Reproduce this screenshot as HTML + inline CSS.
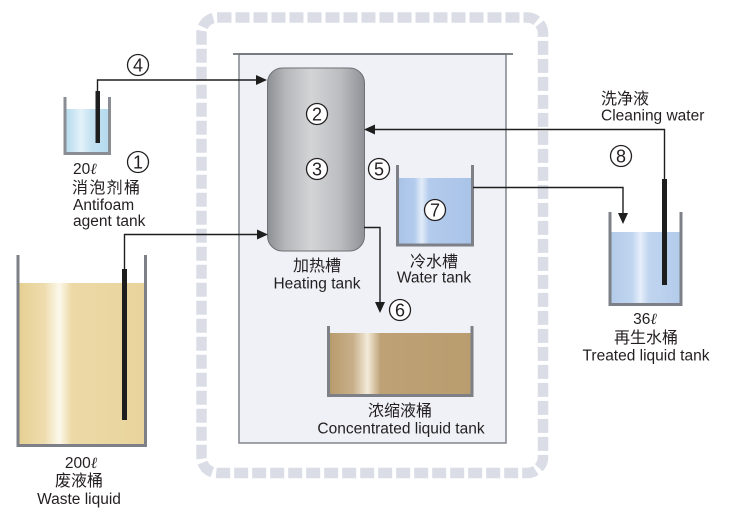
<!DOCTYPE html>
<html>
<head>
<meta charset="utf-8">
<style>
  html,body{margin:0;padding:0;background:#fff;}
  svg{display:block;}
  text{font-family:"Liberation Sans","Noto Sans CJK SC",sans-serif;fill:#231f20;}
</style>
</head>
<body>
<svg width="730" height="514" viewBox="0 0 730 514" xmlns="http://www.w3.org/2000/svg">
  <defs>
    <linearGradient id="heat" x1="0" y1="0" x2="1" y2="0">
      <stop offset="0" stop-color="#8c8f93"/>
      <stop offset="0.18" stop-color="#b4b6b9"/>
      <stop offset="0.45" stop-color="#d3d4d6"/>
      <stop offset="0.75" stop-color="#bbbdc0"/>
      <stop offset="1" stop-color="#8e9196"/>
    </linearGradient>
    <linearGradient id="blue" x1="0" y1="0" x2="1" y2="0">
      <stop offset="0" stop-color="#a9c3e8"/>
      <stop offset="0.22" stop-color="#b3cbec"/>
      <stop offset="0.32" stop-color="#e2ecf9"/>
      <stop offset="0.42" stop-color="#b3cbec"/>
      <stop offset="1" stop-color="#a9c3e8"/>
    </linearGradient>
    <linearGradient id="blue2" x1="0" y1="0" x2="1" y2="0">
      <stop offset="0" stop-color="#b3cbea"/>
      <stop offset="0.3" stop-color="#c0d5ef"/>
      <stop offset="0.42" stop-color="#e6eefa"/>
      <stop offset="0.54" stop-color="#c0d5ef"/>
      <stop offset="1" stop-color="#b3cbea"/>
    </linearGradient>
    <linearGradient id="cyan" x1="0" y1="0" x2="1" y2="0">
      <stop offset="0" stop-color="#b5dbee"/>
      <stop offset="0.35" stop-color="#e3f2f9"/>
      <stop offset="0.6" stop-color="#c2e1f1"/>
      <stop offset="1" stop-color="#b5dbee"/>
    </linearGradient>
    <linearGradient id="waste" x1="0" y1="0" x2="1" y2="0">
      <stop offset="0" stop-color="#e6d092"/>
      <stop offset="0.2" stop-color="#eedcae"/>
      <stop offset="0.32" stop-color="#fcf8ea"/>
      <stop offset="0.42" stop-color="#ecd9a6"/>
      <stop offset="1" stop-color="#e9d49c"/>
    </linearGradient>
    <linearGradient id="conc" x1="0" y1="0" x2="1" y2="0">
      <stop offset="0" stop-color="#b79a6b"/>
      <stop offset="0.17" stop-color="#c8b08a"/>
      <stop offset="0.27" stop-color="#f3ead9"/>
      <stop offset="0.36" stop-color="#bea276"/>
      <stop offset="1" stop-color="#b99d6f"/>
    </linearGradient>
  </defs>

  <!-- dashed outer border -->
  <rect x="201.5" y="17.5" width="341.5" height="455.5" rx="16" ry="16" fill="none" stroke="#dadde6" stroke-width="10.5" stroke-dasharray="14 4"/>

  <!-- inner box -->
  <rect x="239" y="54" width="267" height="389" fill="#eff1f7" stroke="#8a8d93" stroke-width="1.6"/>
  <line x1="233" y1="54" x2="513" y2="54" stroke="#6f7277" stroke-width="1.8"/>

  <!-- heating tank -->
  <rect x="267.5" y="68" width="97" height="183" rx="15" ry="15" fill="url(#heat)" stroke="#6d7075" stroke-width="1"/>

  <!-- water tank -->
  <rect x="398" y="178" width="74" height="66" fill="url(#blue)"/>
  <polyline points="397.5,165 397.5,245 472.5,245 472.5,165" fill="none" stroke="#7d8087" stroke-width="3"/>

  <!-- concentrated liquid tank -->
  <rect x="329" y="333" width="143" height="62" fill="url(#conc)"/>
  <polyline points="328.5,326 328.5,395.5 472,395.5 472,326" fill="none" stroke="#7d8087" stroke-width="3"/>

  <!-- antifoam tank -->
  <rect x="66" y="109" width="43" height="43" fill="url(#cyan)"/>
  <polyline points="65,97 65,153.5 109.5,153.5 109.5,97" fill="none" stroke="#8a8d93" stroke-width="3"/>

  <!-- waste tank -->
  <rect x="19" y="283" width="126" height="162" fill="url(#waste)"/>
  <polyline points="18,255 18,445.5 145.5,445.5 145.5,255" fill="none" stroke="#7d8087" stroke-width="3"/>

  <!-- treated liquid tank -->
  <rect x="611" y="232" width="70" height="72" fill="url(#blue2)"/>
  <polyline points="610,212 610,304.5 681,304.5 681,212" fill="none" stroke="#7d8087" stroke-width="3"/>

  <!-- pipes -->
  <rect x="95.5" y="91" width="4.5" height="52" fill="#1e1e1e"/>
  <rect x="122" y="269" width="5" height="151" fill="#1e1e1e"/>
  <rect x="662" y="179" width="5" height="106" fill="#1e1e1e"/>

  <!-- connector lines -->
  <g fill="none" stroke="#1e1e1e" stroke-width="1.4">
    <polyline points="97.5,91 97.5,80 257,80"/>
    <polyline points="124.5,269 124.5,234.5 258,234.5"/>
    <polyline points="664.5,179 664.5,129.5 375,129.5"/>
    <polyline points="473,187.5 623,187.5 623,213"/>
    <polyline points="364,227.5 380,227.5 380,302"/>
  </g>
  <!-- arrowheads -->
  <g fill="#1e1e1e">
    <polygon points="267,80 256,75 256,85"/>
    <polygon points="268,234.5 257,229.5 257,239.5"/>
    <polygon points="364,129.5 375,124.5 375,134.5"/>
    <polygon points="623,224 618,213 628,213"/>
    <polygon points="380,313 375,302 385,302"/>
  </g>

  <!-- circled numbers -->
  <g fill="#fff" stroke="#231f20" stroke-width="1.3">
    <circle cx="138" cy="65" r="10.5"/>
    <circle cx="138" cy="162" r="10.5"/>
    <circle cx="317" cy="114" r="10.5"/>
    <circle cx="317" cy="169" r="10.5"/>
    <circle cx="379" cy="169" r="10.5"/>
    <circle cx="435" cy="210" r="10.5"/>
    <circle cx="400" cy="310" r="10.5"/>
    <circle cx="621" cy="156" r="10.5"/>
  </g>
  <g font-size="18" text-anchor="middle">
    <text x="138" y="71.5">4</text>
    <text x="138" y="168.5">1</text>
    <text x="317" y="120.5">2</text>
    <text x="317" y="175.5">3</text>
    <text x="379" y="175.5">5</text>
    <text x="435" y="216.5">7</text>
    <text x="400" y="316.5">6</text>
    <text x="621" y="162.5">8</text>
  </g>

  <!-- labels -->
  <g font-size="15.5">
    <text x="73" y="174">20<tspan font-style="italic" font-family="Liberation Serif, serif">ℓ</tspan></text>
    <text x="72" y="193" font-size="16" textLength="68">消泡剂桶</text>
    <text x="73" y="210">Antifoam</text>
    <text x="73" y="226">agent tank</text>
  </g>
  <g font-size="15.5" text-anchor="middle">
    <text x="81" y="468">200<tspan font-style="italic" font-family="Liberation Serif, serif">ℓ</tspan></text>
    <text x="79" y="486" font-size="16">废液桶</text>
    <text x="79" y="504">Waste liquid</text>

    <text x="317" y="271" font-size="16">加热槽</text>
    <text x="317" y="288.5">Heating tank</text>

    <text x="434" y="267" font-size="16">冷水槽</text>
    <text x="434" y="282.5">Water tank</text>

    <text x="400" y="416" font-size="16">浓缩液桶</text>
    <text x="401" y="433.5">Concentrated liquid tank</text>

    <text x="645" y="324">36<tspan font-style="italic" font-family="Liberation Serif, serif">ℓ</tspan></text>
    <text x="646" y="343" font-size="16">再生水桶</text>
    <text x="646" y="360.5">Treated liquid tank</text>
  </g>
  <g font-size="15.5">
    <text x="601" y="104" font-size="16">洗净液</text>
    <text x="601" y="120.5">Cleaning water</text>
  </g>
</svg>
</body>
</html>
